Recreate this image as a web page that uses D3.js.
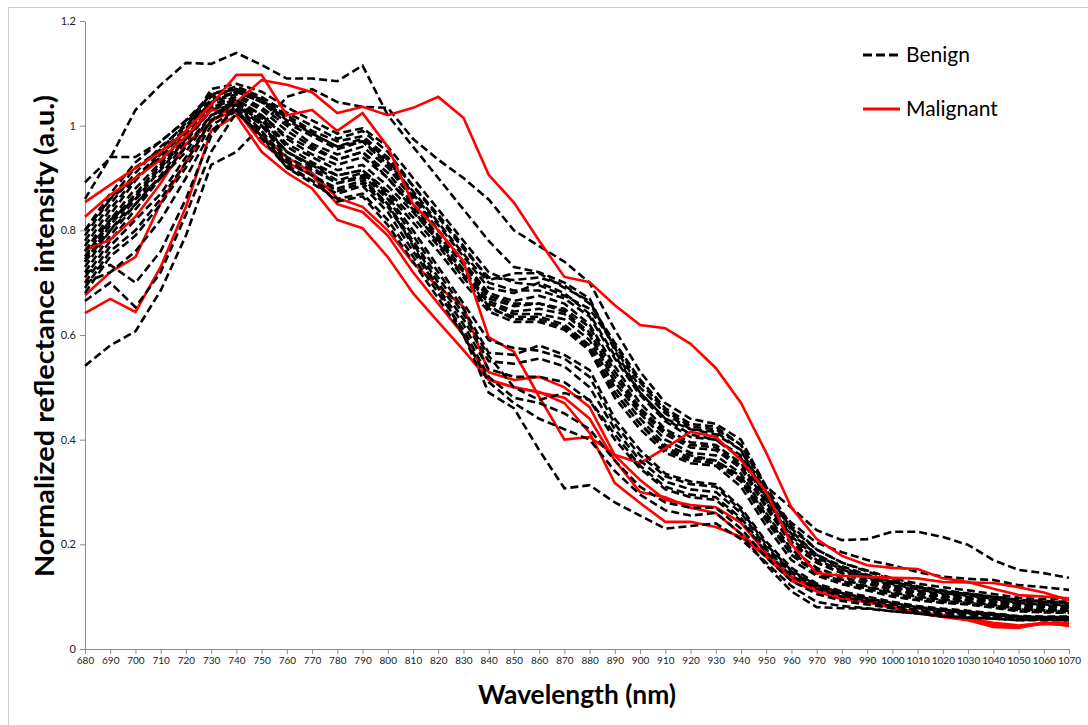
<!DOCTYPE html>
<html><head><meta charset="utf-8">
<script src="https://cdn.jsdelivr.net/npm/d3@7"></script>
<style>body{margin:0;background:#fff}svg{display:block}</style>
</head><body>
<svg id="chart" width="1088" height="725"></svg>
<script>
const wavelengths = [680,690,700,710,720,730,740,750,760,770,780,790,800,810,820,830,840,850,860,870,880,890,900,910,920,930,940,950,960,970,980,990,1000,1010,1020,1030,1040,1050,1060,1070];
const yTicks = [0,0.2,0.4,0.6,0.8,1,1.2];
const seriesNames = ["Benign","Malignant"];

// Benign spectra (dashed black)
const benignB1 = [0.892,0.938,1.03,1.078,1.12,1.118,1.139,1.116,1.09,1.09,1.085,1.115,1.02,0.96,0.90,0.84,0.78,0.73,0.72,0.70,0.67,0.57,0.49,0.44,0.42,0.41,0.38,0.29,0.241,0.203,0.185,0.17,0.16,0.147,0.138,0.134,0.132,0.122,0.118,0.113];
const benignB2 = [0.541,0.58,0.607,0.685,0.79,0.925,0.95,1.0,1.055,1.07,1.045,1.036,1.034,0.975,0.935,0.90,0.859,0.80,0.77,0.74,0.70,0.61,0.53,0.47,0.44,0.43,0.40,0.31,0.27,0.227,0.208,0.21,0.224,0.224,0.214,0.199,0.17,0.151,0.145,0.136];
const benignU1 = [0.80,0.87,0.93,0.97,1.01,1.06,1.075,1.055,1.025,1.0,0.975,0.99,0.95,0.885,0.83,0.77,0.705,0.718,0.718,0.69,0.665,0.575,0.50,0.45,0.42,0.415,0.38,0.30,0.23,0.19,0.165,0.15,0.135,0.125,0.118,0.112,0.105,0.098,0.095,0.095];
const benignU2 = [0.78,0.85,0.91,0.96,1.00,1.05,1.065,1.045,1.015,0.985,0.96,0.975,0.935,0.87,0.81,0.75,0.69,0.68,0.70,0.68,0.64,0.56,0.49,0.44,0.41,0.40,0.37,0.29,0.22,0.18,0.155,0.14,0.128,0.118,0.11,0.105,0.098,0.09,0.088,0.087];
const benignU3 = [0.76,0.83,0.895,0.945,0.99,1.045,1.06,1.035,1.0,0.965,0.945,0.96,0.92,0.86,0.80,0.74,0.68,0.665,0.675,0.66,0.62,0.54,0.47,0.42,0.395,0.39,0.355,0.28,0.21,0.17,0.15,0.135,0.122,0.112,0.105,0.10,0.093,0.086,0.083,0.082];
const benignU4 = [0.75,0.82,0.88,0.93,0.985,1.04,1.055,1.03,0.99,0.96,0.935,0.95,0.91,0.85,0.79,0.735,0.67,0.655,0.66,0.645,0.605,0.52,0.455,0.41,0.385,0.38,0.345,0.27,0.20,0.165,0.145,0.13,0.118,0.108,0.10,0.096,0.09,0.082,0.08,0.079];
const benignU5 = [0.745,0.815,0.87,0.925,0.98,1.035,1.05,1.02,0.975,0.945,0.925,0.94,0.90,0.845,0.785,0.725,0.665,0.645,0.65,0.64,0.60,0.51,0.45,0.40,0.375,0.37,0.335,0.26,0.19,0.155,0.138,0.125,0.113,0.104,0.097,0.093,0.087,0.08,0.077,0.076];
const benignU6 = [0.73,0.80,0.86,0.915,0.975,1.03,1.045,1.015,0.965,0.94,0.915,0.925,0.885,0.835,0.78,0.72,0.66,0.64,0.64,0.63,0.59,0.50,0.44,0.39,0.37,0.36,0.33,0.255,0.185,0.15,0.133,0.12,0.108,0.10,0.094,0.09,0.084,0.077,0.074,0.073];
const benignU7 = [0.72,0.79,0.85,0.905,0.97,1.03,1.04,1.01,0.96,0.93,0.905,0.915,0.875,0.825,0.77,0.71,0.65,0.635,0.635,0.62,0.58,0.49,0.43,0.38,0.36,0.355,0.32,0.245,0.18,0.145,0.128,0.115,0.104,0.096,0.09,0.087,0.081,0.074,0.071,0.07];
const benignU8 = [0.80,0.86,0.90,0.94,0.99,1.07,1.08,1.065,1.035,1.01,0.985,0.995,0.96,0.90,0.84,0.78,0.72,0.70,0.695,0.675,0.65,0.58,0.51,0.455,0.425,0.42,0.39,0.31,0.235,0.19,0.165,0.148,0.132,0.12,0.112,0.106,0.10,0.094,0.092,0.09];
const benignU9 = [0.86,0.94,0.94,0.97,1.01,1.055,1.07,1.05,1.01,0.985,0.96,0.97,0.93,0.875,0.815,0.755,0.70,0.685,0.685,0.67,0.635,0.555,0.485,0.435,0.405,0.40,0.365,0.285,0.215,0.175,0.152,0.137,0.124,0.114,0.107,0.102,0.096,0.088,0.085,0.084];
const benignU10 = [0.71,0.78,0.84,0.90,0.96,1.02,1.04,1.0,0.95,0.925,0.905,0.915,0.87,0.815,0.76,0.70,0.645,0.625,0.625,0.61,0.57,0.48,0.42,0.375,0.355,0.35,0.31,0.235,0.17,0.14,0.124,0.112,0.10,0.093,0.088,0.085,0.079,0.072,0.07,0.069];
const benignU11 = [0.77,0.84,0.90,0.95,0.995,1.045,1.065,1.045,1.005,0.98,0.955,0.97,0.925,0.865,0.80,0.74,0.675,0.66,0.66,0.65,0.615,0.53,0.46,0.415,0.39,0.385,0.35,0.275,0.205,0.165,0.145,0.13,0.118,0.108,0.101,0.097,0.091,0.084,0.081,0.08];
const benignU12 = [0.79,0.86,0.92,0.955,1.005,1.06,1.07,1.05,1.02,0.99,0.97,0.98,0.94,0.885,0.825,0.765,0.71,0.705,0.71,0.695,0.66,0.585,0.515,0.46,0.43,0.425,0.39,0.305,0.225,0.18,0.158,0.142,0.128,0.118,0.11,0.105,0.10,0.093,0.09,0.088];
const benignU13 = [0.74,0.81,0.865,0.92,0.975,1.035,1.05,1.02,0.98,0.955,0.935,0.95,0.90,0.84,0.775,0.715,0.655,0.63,0.63,0.615,0.575,0.49,0.43,0.385,0.365,0.36,0.325,0.25,0.18,0.145,0.13,0.118,0.106,0.098,0.092,0.088,0.083,0.076,0.073,0.072];
const benignL1 = [0.70,0.77,0.82,0.87,0.94,1.01,1.05,1.0,0.94,0.915,0.89,0.905,0.86,0.79,0.72,0.65,0.566,0.562,0.58,0.562,0.533,0.44,0.38,0.335,0.32,0.315,0.27,0.205,0.155,0.125,0.11,0.10,0.09,0.082,0.077,0.073,0.068,0.063,0.062,0.062];
const benignL2 = [0.69,0.76,0.80,0.86,0.93,1.01,1.035,0.985,0.93,0.905,0.875,0.89,0.845,0.775,0.70,0.63,0.55,0.545,0.555,0.54,0.50,0.42,0.36,0.32,0.305,0.30,0.26,0.195,0.148,0.12,0.105,0.095,0.086,0.079,0.074,0.07,0.066,0.061,0.06,0.06];
const benignL3 = [0.665,0.70,0.653,0.72,0.83,0.95,1.025,0.98,0.925,0.895,0.87,0.885,0.835,0.76,0.69,0.62,0.535,0.52,0.52,0.51,0.475,0.40,0.345,0.305,0.29,0.285,0.245,0.185,0.14,0.115,0.10,0.09,0.082,0.075,0.07,0.067,0.063,0.058,0.058,0.058];
const benignL4 = [0.72,0.734,0.70,0.76,0.86,0.98,1.04,0.99,0.935,0.905,0.88,0.895,0.85,0.78,0.71,0.64,0.56,0.50,0.476,0.489,0.476,0.41,0.35,0.31,0.295,0.29,0.25,0.19,0.145,0.118,0.103,0.093,0.085,0.078,0.073,0.069,0.065,0.06,0.059,0.059];
const benignL5 = [0.68,0.75,0.79,0.85,0.92,1.00,1.03,0.975,0.92,0.89,0.86,0.87,0.82,0.75,0.68,0.61,0.52,0.48,0.47,0.45,0.42,0.36,0.31,0.28,0.27,0.27,0.23,0.175,0.13,0.105,0.092,0.085,0.078,0.072,0.067,0.064,0.06,0.056,0.056,0.056];
const benignL6 = [0.74,0.80,0.85,0.90,0.96,1.02,1.04,1.0,0.95,0.92,0.89,0.90,0.85,0.77,0.69,0.60,0.49,0.46,0.38,0.307,0.313,0.28,0.255,0.23,0.235,0.24,0.21,0.165,0.12,0.09,0.082,0.078,0.072,0.068,0.062,0.06,0.058,0.055,0.057,0.055];
const benignL7 = [0.70,0.72,0.76,0.82,0.90,0.99,1.03,0.98,0.92,0.895,0.855,0.865,0.81,0.74,0.67,0.60,0.51,0.47,0.44,0.42,0.40,0.34,0.295,0.265,0.255,0.26,0.22,0.16,0.11,0.08,0.078,0.077,0.072,0.068,0.063,0.06,0.058,0.055,0.055,0.055];
const benignL8 = [0.76,0.82,0.86,0.90,0.95,1.02,1.045,1.005,0.95,0.925,0.895,0.91,0.865,0.80,0.73,0.66,0.59,0.575,0.57,0.555,0.52,0.43,0.37,0.33,0.315,0.31,0.265,0.20,0.15,0.122,0.107,0.097,0.088,0.08,0.075,0.071,0.067,0.062,0.061,0.061];

// Malignant spectra (solid red)
const malignantR1 = [0.762,0.782,0.826,0.89,0.965,1.007,1.045,1.087,1.078,1.064,1.024,1.036,1.02,1.034,1.055,1.015,0.906,0.853,0.78,0.711,0.701,0.657,0.619,0.613,0.583,0.537,0.47,0.375,0.27,0.21,0.178,0.16,0.155,0.153,0.135,0.128,0.115,0.103,0.10,0.097];
const malignantR2 = [0.854,0.887,0.919,0.95,0.99,1.04,1.097,1.097,1.02,1.03,0.99,1.024,0.96,0.85,0.80,0.74,0.596,0.568,0.482,0.40,0.405,0.371,0.355,0.384,0.415,0.405,0.361,0.30,0.20,0.145,0.14,0.138,0.136,0.135,0.128,0.127,0.126,0.118,0.108,0.093];
const malignantR3 = [0.826,0.868,0.90,0.935,0.98,1.03,1.025,0.98,0.94,0.91,0.862,0.845,0.80,0.738,0.692,0.654,0.529,0.514,0.52,0.50,0.462,0.37,0.323,0.285,0.275,0.271,0.241,0.183,0.138,0.118,0.107,0.094,0.08,0.069,0.061,0.055,0.042,0.04,0.05,0.044];
const malignantR4 = [0.676,0.72,0.749,0.852,0.93,1.01,1.03,0.967,0.93,0.905,0.85,0.835,0.79,0.72,0.66,0.60,0.515,0.50,0.491,0.47,0.413,0.317,0.279,0.243,0.243,0.233,0.214,0.176,0.13,0.11,0.095,0.09,0.08,0.07,0.065,0.058,0.05,0.045,0.05,0.05];
const malignantR5 = [0.642,0.669,0.644,0.73,0.845,0.99,1.02,0.95,0.91,0.88,0.82,0.804,0.749,0.68,0.625,0.571,0.514,0.50,0.49,0.48,0.44,0.36,0.30,0.29,0.27,0.26,0.22,0.18,0.135,0.115,0.10,0.09,0.078,0.068,0.062,0.056,0.046,0.042,0.048,0.046];

const benignFirst = [benignB1,benignB2,benignU1,benignU2,benignU3,benignU4,benignU5,benignU6,benignU7,benignU8,benignU9,benignU10,benignU11,benignU12,benignU13];
const malignant = [malignantR1,malignantR2,malignantR3,malignantR4,malignantR5];
const benignLast = [benignL1,benignL2,benignL3,benignL4,benignL5,benignL6,benignL7,benignL8];

const svg = d3.select("#chart");
const font = "Lato, 'Open Sans', sans-serif";

// outer frame
svg.append("rect").attr("x",8.5).attr("y",7.5).attr("width",1100).attr("height",740)
  .attr("fill","none").attr("stroke","#d0d0d0").attr("stroke-width",1);

const x = d3.scaleLinear().domain([680,1070]).range([85,1069]);
const y = d3.scaleLinear().domain([0,1.2]).range([649,21]);

const yAxis = svg.append("g").attr("transform","translate(85,0)")
  .call(d3.axisLeft(y).tickValues(yTicks).tickSize(5).tickSizeOuter(0).tickPadding(4).tickFormat(d=>String(d)));
const xAxis = svg.append("g").attr("transform","translate(0,649)")
  .call(d3.axisBottom(x).tickValues(wavelengths).tickSize(5).tickSizeOuter(0).tickPadding(3).tickFormat(d=>String(d)));
[yAxis,xAxis].forEach(g=>{
  g.selectAll(".domain").attr("stroke","#8c8c8c");
  g.selectAll(".tick line").attr("stroke","#8c8c8c");
  g.selectAll("text").attr("fill","#222").style("font-family",font).style("font-size","10px");
});
yAxis.selectAll("text").style("font-size","11px");

const line = d3.line().x((d,i)=>x(wavelengths[i])).y(d=>y(d));
const plot = svg.append("g");
function drawBenign(arr){
  plot.selectAll(null).data(arr).enter().append("path")
    .attr("d",line).attr("fill","none").attr("stroke","#000")
    .attr("stroke-width",2.6).attr("stroke-dasharray","8,4");
}
drawBenign(benignFirst);
plot.selectAll(null).data(malignant).enter().append("path")
  .attr("d",line).attr("fill","none").attr("stroke","#ff0000").attr("stroke-width",2.6);
drawBenign(benignLast);

// axis titles
svg.append("text").attr("x",577).attr("y",704).attr("text-anchor","middle")
  .attr("textLength",198).attr("lengthAdjust","spacingAndGlyphs")
  .style("font-family",font).style("font-weight","bold").style("font-size","26px").attr("fill","#000")
  .text("Wavelength (nm)");
svg.append("text").attr("transform","translate(54,336) rotate(-90)").attr("text-anchor","middle")
  .attr("textLength",482).attr("lengthAdjust","spacingAndGlyphs")
  .style("font-family",font).style("font-weight","bold").style("font-size","27px").attr("fill","#000")
  .text("Normalized reflectance intensity (a.u.)");

// legend
const leg = svg.append("g");
leg.append("line").attr("x1",863).attr("x2",899).attr("y1",55).attr("y2",55)
  .attr("stroke","#000").attr("stroke-width",3).attr("stroke-dasharray","9,4");
leg.append("text").attr("x",906).attr("y",62).text(seriesNames[0])
  .style("font-family",font).style("font-size","21px").attr("fill","#000");
leg.append("line").attr("x1",863).attr("x2",900).attr("y1",109).attr("y2",109)
  .attr("stroke","#ff0000").attr("stroke-width",3);
leg.append("text").attr("x",906).attr("y",116).text(seriesNames[1])
  .style("font-family",font).style("font-size","21px").attr("fill","#000");
</script>
</body></html>
